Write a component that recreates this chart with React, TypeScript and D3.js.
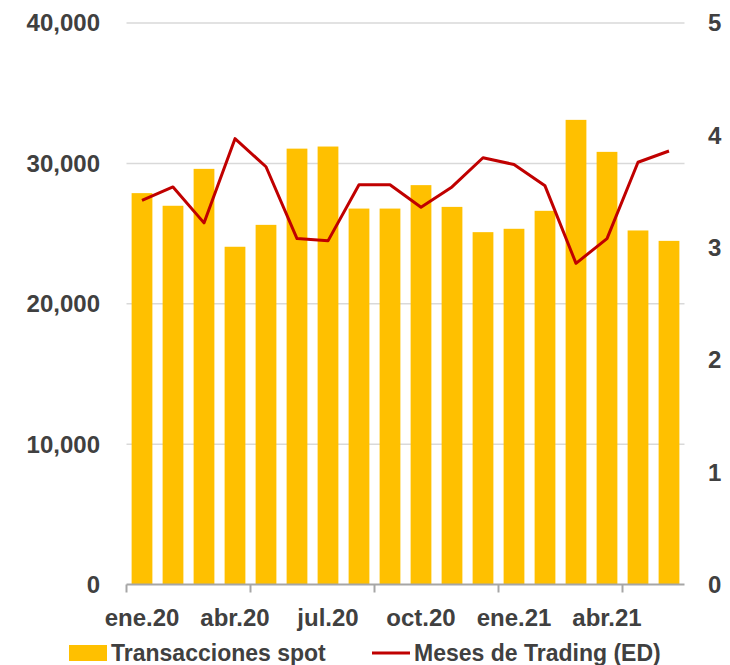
import React, { useEffect } from 'react';
import * as d3 from 'd3';

// --- Data ---
const months = [
  'ene.20', 'feb.20', 'mar.20', 'abr.20', 'may.20', 'jun.20',
  'jul.20', 'ago.20', 'sep.20', 'oct.20', 'nov.20', 'dic.20',
  'ene.21', 'feb.21', 'mar.21', 'abr.21', 'may.21', 'jun.21',
];
const spotTransactions = [
  27880, 26980, 29610, 24060, 25620, 31050, 31200, 26780, 26780,
  28450, 26900, 25100, 25340, 26620, 33100, 30820, 25220, 24480,
];
const tradingMonths = [
  3.42, 3.54, 3.22, 3.97, 3.72, 3.08, 3.06, 3.56, 3.56,
  3.36, 3.54, 3.80, 3.74, 3.55, 2.86, 3.08, 3.76, 3.86,
];
const leftTicks = [0, 10000, 20000, 30000, 40000];
const rightTicks = [0, 1, 2, 3, 4, 5];
const seriesNames = ['Transacciones spot', 'Meses de Trading (ED)'];

const W = 730;
const H = 665;
const FONT = '"Liberation Sans", Arial, sans-serif';
const TEXT = '#404040';
const BAR = '#ffc000';
const LINE = '#c00000';

const App: React.FC = () => {
  useEffect(() => {
    document.body.style.margin = '0';
  }, []);

  const plot = { left: 126.5, right: 684.5, top: 23, bottom: 584.5 };

  const x = d3.scaleBand<string>()
    .domain(months)
    .range([plot.left, plot.right])
    .paddingInner(0.33)
    .paddingOuter(0.165);
  const yL = d3.scaleLinear().domain([0, 40000]).range([plot.bottom, plot.top]);
  const yR = d3.scaleLinear().domain([0, 5]).range([plot.bottom, plot.top]);

  const fmt = d3.format(',');
  const step = x.step();
  const cx = (m: string) => (x(m) ?? 0) + x.bandwidth() / 2;

  const line = d3.line<number>()
    .x((_, i) => cx(months[i]))
    .y(d => yR(d));

  // Excel puts a tick mark every 4 categories, labels every 3
  const tickMarks = d3.range(0, months.length, 4).map(i => plot.left + i * step);

  return (
    <svg width={W} height={H} style={{ display: 'block' }} fontFamily={FONT} fontWeight="bold">
      {/* gridlines */}
      {leftTicks.filter(t => t > 0).map(t => (
        <line key={t} x1={plot.left} x2={plot.right} y1={yL(t)} y2={yL(t)}
          stroke="#d9d9d9" strokeWidth={1.5} />
      ))}

      {/* bars */}
      {spotTransactions.map((v, i) => (
        <rect key={months[i]} x={x(months[i])} y={yL(v)} width={x.bandwidth()}
          height={yL(0) - yL(v)} fill={BAR} />
      ))}

      {/* x axis */}
      <line x1={plot.left} x2={plot.right} y1={plot.bottom} y2={plot.bottom}
        stroke="#a6a6a6" strokeWidth={2} />
      {tickMarks.map(tx => (
        <line key={tx} x1={tx} x2={tx} y1={plot.bottom} y2={plot.bottom + 8}
          stroke="#a6a6a6" strokeWidth={2} />
      ))}
      {months.map((m, i) => i % 3 === 0 ? (
        <text key={m} x={cx(m)} y={626} textAnchor="middle" fontSize={24} fill={TEXT}>{m}</text>
      ) : null)}

      {/* line */}
      <path d={line(tradingMonths) ?? ''} fill="none" stroke={LINE} strokeWidth={3}
        strokeLinejoin="round" />

      {/* left axis labels */}
      {leftTicks.map(t => (
        <text key={t} x={100} y={yL(t)} dy="0.35em" textAnchor="end" fontSize={24} fill={TEXT}>
          {fmt(t)}
        </text>
      ))}

      {/* right axis labels */}
      {rightTicks.map(t => (
        <text key={t} x={708} y={yR(t)} dy="0.35em" textAnchor="start" fontSize={24} fill={TEXT}>
          {t}
        </text>
      ))}

      {/* legend */}
      <rect x={69} y={645} width={38} height={16} fill={BAR} />
      <text x={111} y={661} fontSize={23} fill={TEXT}>{seriesNames[0]}</text>
      <line x1={372} x2={410} y1={653} y2={653} stroke={LINE} strokeWidth={3} />
      <text x={414} y={661} fontSize={23} fill={TEXT}>{seriesNames[1]}</text>
    </svg>
  );
};

export default App;
